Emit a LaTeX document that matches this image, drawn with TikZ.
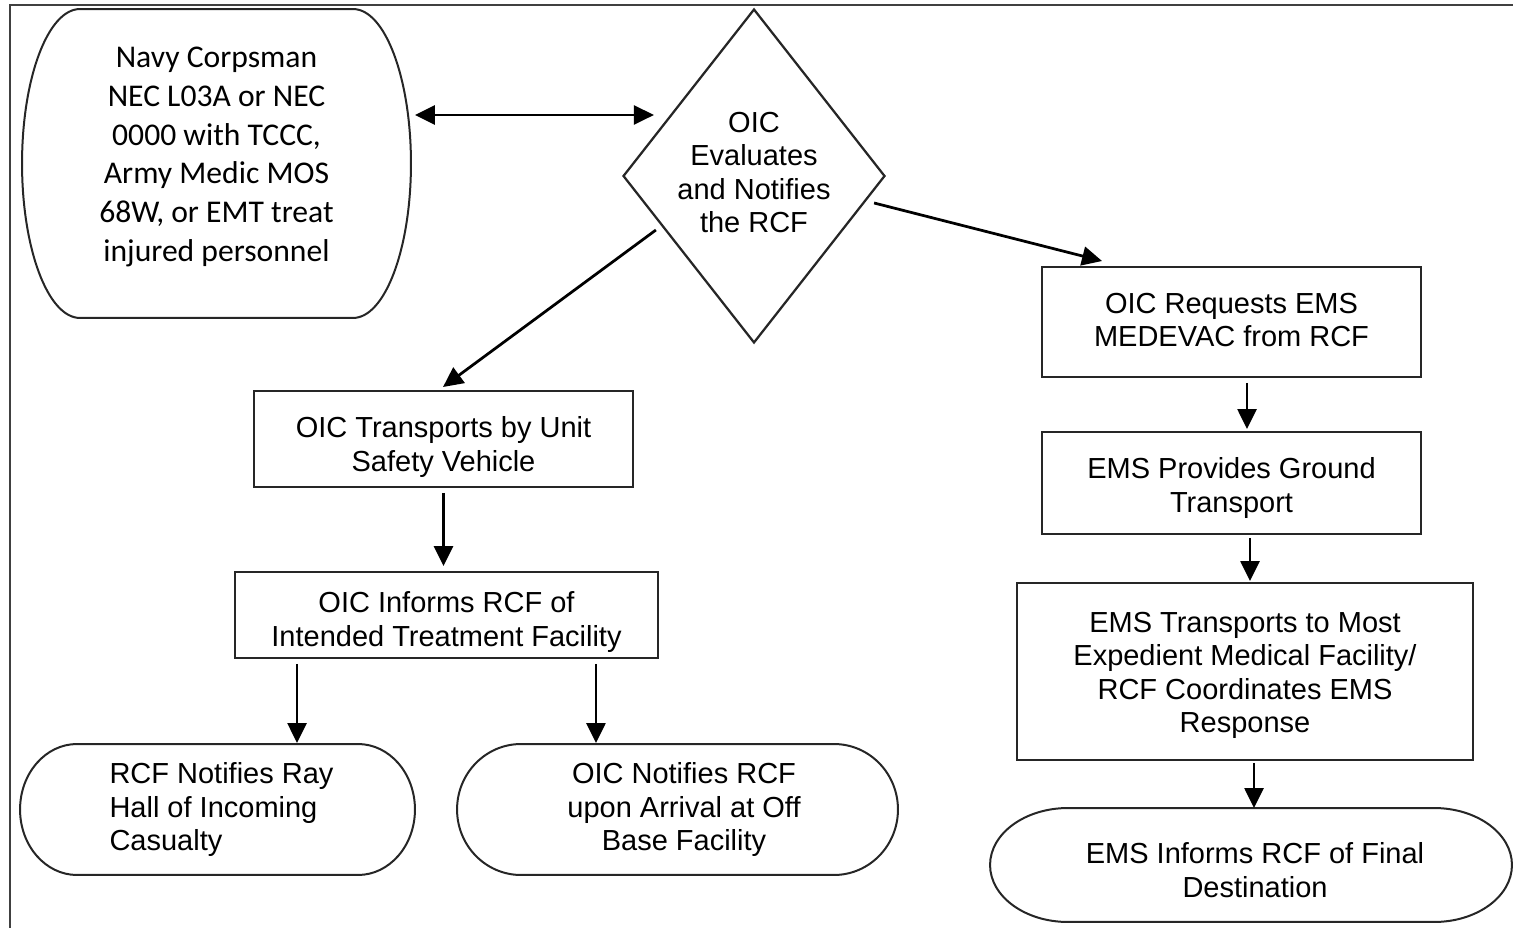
\documentclass[tikz,border=0pt]{standalone}
\usepackage{fontspec}
\setmainfont{Liberation Sans}
\newfontfamily\calfont{Carlito}
\usetikzlibrary{arrows.meta,shapes.geometric}
\begin{document}
\begin{tikzpicture}[x=0.02cm,y=-0.02cm,
  txt/.style={font=\fontsize{16.5}{19}\selectfont, align=center, text=black},
  box/.style={draw=black!85, line width=0.04cm, inner sep=0pt},
  outline/.style={draw=black!85, line width=0.04cm},
  holder/.style={inner sep=0pt, outer sep=0pt},
  arr/.style={line width=0.055cm, -{Triangle[length=0.4cm,width=0.38cm]}},
  darr/.style={line width=0.055cm, {Triangle[length=0.4cm,width=0.38cm]}-{Triangle[length=0.4cm,width=0.38cm]}},
]
\useasboundingbox (0,0) rectangle (1513,928);
\draw[line width=0.05cm, black!75] (10,928) -- (10,5) -- (1513,5);

% top-left terminator
\node[holder, minimum width=7.78cm, minimum height=6.18cm,
  label={[font=\calfont\fontsize{18}{22}\selectfont, align=center, yshift=0.13cm]center:{Navy Corpsman\\NEC L03A or NEC\\0000 with TCCC,\\Army Medic MOS\\68W, or EMT treat\\injured personnel}}] (n1) at (216.5,163.5) {};
\draw[outline] ([xshift=1.16cm]n1.north west) -- ([xshift=-1.16cm]n1.north east)
  arc[start angle=90,end angle=-90,x radius=1.16cm,y radius=3.09cm]
  -- ([xshift=1.16cm]n1.south west)
  arc[start angle=270,end angle=90,x radius=1.16cm,y radius=3.09cm] -- cycle;

% decision
\node[diamond, draw=black!85, line width=0.045cm, minimum width=5.24cm, minimum height=6.68cm, inner sep=0pt,
  label={[txt, yshift=0.07cm]center:{OIC\\Evaluates\\and Notifies\\the RCF}}] (dia) at (754,176) {};

% left branch
\node[box, minimum width=7.58cm, minimum height=1.92cm,
  label={[txt, yshift=-0.16cm]center:{OIC Transports by Unit\\Safety Vehicle}}] (l1) at (443.5,439) {};
\node[box, minimum width=8.46cm, minimum height=1.72cm,
  label={[txt, yshift=-0.14cm]center:{OIC Informs RCF of\\Intended Treatment Facility}}] (l2) at (446.5,615) {};

\node[holder, minimum width=7.9cm, minimum height=2.62cm,
  label={[txt, align=left, xshift=0.08cm]center:{RCF Notifies Ray\\Hall of Incoming\\Casualty}}] (b1) at (217.5,809.5) {};
\draw[outline] ([xshift=1.14cm]b1.north west) -- ([xshift=-1.14cm]b1.north east)
  arc[start angle=90,end angle=-90,x radius=1.14cm,y radius=1.31cm]
  -- ([xshift=1.14cm]b1.south west)
  arc[start angle=270,end angle=90,x radius=1.14cm,y radius=1.31cm] -- cycle;

\node[holder, minimum width=8.82cm, minimum height=2.62cm,
  label={[txt, xshift=0.13cm]center:{OIC Notifies RCF\\upon Arrival at Off\\Base Facility}}] (b2) at (677.5,809.5) {};
\draw[outline] ([xshift=1.28cm]b2.north west) -- ([xshift=-1.28cm]b2.north east)
  arc[start angle=90,end angle=-90,x radius=1.28cm,y radius=1.31cm]
  -- ([xshift=1.28cm]b2.south west)
  arc[start angle=270,end angle=90,x radius=1.28cm,y radius=1.31cm] -- cycle;

% right branch
\node[box, minimum width=7.58cm, minimum height=2.2cm,
  label={[txt, yshift=0.04cm]center:{OIC Requests EMS\\MEDEVAC from RCF}}] (r1) at (1231.5,322) {};
\node[box, minimum width=7.58cm, minimum height=2.04cm,
  label={[txt, yshift=-0.1cm]center:{EMS Provides Ground\\Transport}}] (r2) at (1231.5,483) {};
\node[box, minimum width=9.12cm, minimum height=3.54cm,
  label={[txt, yshift=-0.08cm]center:{EMS Transports to Most\\Expedient Medical Facility/\\RCF Coordinates EMS\\Response}}] (r3) at (1245,671.5) {};

\node[holder, minimum width=10.44cm, minimum height=2.28cm,
  label={[txt, xshift=0.08cm, yshift=-0.1cm]center:{EMS Informs RCF of Final\\Destination}}] (r4) at (1251,865) {};
\draw[outline] ([xshift=1.56cm]r4.north west) -- ([xshift=-1.56cm]r4.north east)
  arc[start angle=90,end angle=-90,x radius=1.56cm,y radius=1.14cm]
  -- ([xshift=1.56cm]r4.south west)
  arc[start angle=270,end angle=90,x radius=1.56cm,y radius=1.14cm] -- cycle;

% connectors
\draw[darr] ([shift={(4,-48.5)}]n1.east) -- ([shift={(32,-61)}]dia.west);
\draw[arr] ([shift={(-12,27)}]dia.east) -- ([shift={(61,-5)}]r1.north west);
\draw[arr] ([shift={(34,54)}]dia.west) -- ([shift={(-0.5,-3)}]l1.north);
\draw[arr, shorten <=0.1cm, shorten >=0.1cm] (l1.south) -- (l1.south |- l2.north);

\coordinate (s1) at ([xshift=-2.99cm]l2.south);
\coordinate (s2) at ([xshift=2.99cm]l2.south);
\draw[arr, shorten <=0.1cm, shorten >=0.02cm] (s1) -- (s1 |- b1.north);
\draw[arr, shorten <=0.1cm, shorten >=0.02cm] (s2) -- (s2 |- b2.north);

\coordinate (s3) at ([xshift=0.31cm]r1.south);
\coordinate (s4) at ([xshift=0.37cm]r2.south);
\coordinate (s5) at ([xshift=0.18cm]r3.south);
\draw[arr, shorten <=0.1cm, shorten >=0.04cm] (s3) -- (s3 |- r2.north);
\draw[arr, shorten <=0.06cm, shorten >=0.02cm] (s4) -- (s4 |- r3.north);
\draw[arr, shorten <=0.04cm] (s5) -- (s5 |- r4.north);
\end{tikzpicture}
\end{document}
